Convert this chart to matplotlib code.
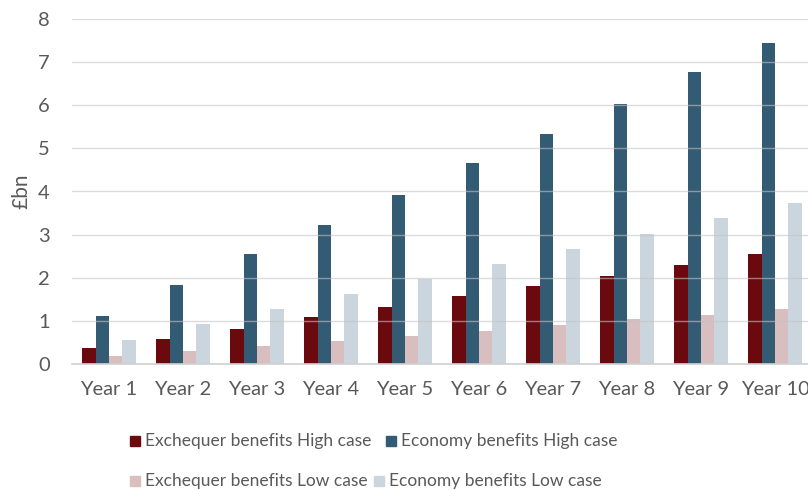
import matplotlib
matplotlib.use("Agg")
import matplotlib.pyplot as plt
from matplotlib.patches import Rectangle
import numpy as np

plt.rcParams['font.family'] = ['Lato', 'DejaVu Sans']

years = ["Year 1", "Year 2", "Year 3", "Year 4", "Year 5",
         "Year 6", "Year 7", "Year 8", "Year 9", "Year 10"]
exchequer_high = [0.36, 0.58, 0.82, 1.08, 1.33, 1.57, 1.81, 2.05, 2.30, 2.54]
economy_high = [1.12, 1.84, 2.54, 3.23, 3.92, 4.65, 5.34, 6.04, 6.77, 7.45]
exchequer_low = [0.18, 0.29, 0.42, 0.53, 0.66, 0.77, 0.90, 1.04, 1.14, 1.28]
economy_low = [0.55, 0.93, 1.27, 1.62, 1.97, 2.32, 2.66, 3.01, 3.39, 3.74]

series_names = ["Exchequer benefits High case", "Economy benefits High case",
                "Exchequer benefits Low case", "Economy benefits Low case"]
series_values = [exchequer_high, economy_high, exchequer_low, economy_low]
colors = ["#6B0A0E", "#335B74", "#D9BEC0", "#CAD5DD"]

text_color = "#595959"

fig = plt.figure(figsize=(8.08, 4.9), dpi=100)
ax = fig.add_axes([72 / 808, 126 / 490, 740 / 808, 345 / 490])

x = np.arange(len(years))
width = 0.18
for i, (vals, col) in enumerate(zip(series_values, colors)):
    ax.bar(x + (i - 1.5) * width, vals, width, color=col, zorder=2)

ax.set_xlim(-0.5, len(years) - 0.5)
ax.set_ylim(0, 8)
ax.set_yticks(range(0, 9))
ax.set_xticks(x)
ax.set_xticklabels(years)
ax.yaxis.grid(True, color="#C4C4C4", linewidth=1.0, alpha=0.6, zorder=3)
ax.set_axisbelow(False)
for side in ["top", "right", "left"]:
    ax.spines[side].set_visible(False)
ax.spines["bottom"].set_color("#CFCFCF")
ax.spines["bottom"].set_linewidth(1.2)
ax.spines["bottom"].set_zorder(3)
ax.tick_params(axis="both", length=0, labelsize=14.5, colors=text_color)
ax.tick_params(axis="y", pad=16)
ax.tick_params(axis="x", pad=12)
ax.set_ylabel("£bn", fontsize=15, color=text_color, labelpad=5)

# Legend laid out in two rows
rows = [
    [(0, 130, 145), (1, 386, 401)],
    [(2, 130, 145), (3, 374, 389)],
]
row_y = [441, 481]
for r, items in enumerate(rows):
    yc = row_y[r]
    for idx, mx, tx in items:
        fig.patches.append(Rectangle((mx / 808, (490 - yc - 5) / 490), 10 / 808, 10 / 490,
                                     transform=fig.transFigure, color=colors[idx]))
        fig.text(tx / 808, (490 - yc) / 490, series_names[idx], fontsize=12.5,
                 color=text_color, va="center", ha="left")

fig.savefig("out.png", dpi=100)
